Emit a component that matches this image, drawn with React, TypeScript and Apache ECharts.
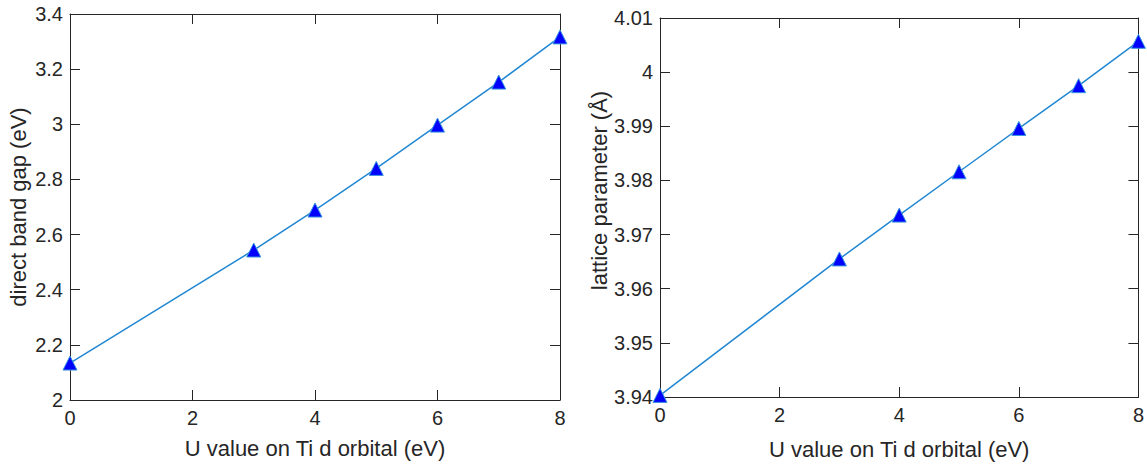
import React, { useEffect, useRef } from "react";
import * as echarts from "echarts";

const uValues = [0, 3, 4, 5, 6, 7, 8];
const bandGap = [2.134, 2.544, 2.689, 2.84, 2.997, 3.153, 3.317];
const latticeParam = [3.9403, 3.9655, 3.9736, 3.9816, 3.9896, 3.9975, 4.0057];

const xName = "U value on Ti d orbital (eV)";
const leftYName = "direct band gap (eV)";
const rightYName = "lattice parameter (Å)";

const FONT = "Liberation Sans, Arial, Helvetica, sans-serif";
const AXIS_COLOR = "#262626";
const LINE_COLOR = "#2287d2";
const MARKER_COLOR = "#0000ff";

function axisBase(show: boolean) {
  return {
    axisLine: { show: true, onZero: false, lineStyle: { color: AXIS_COLOR, width: 1 } },
    axisTick: { show: true, inside: true, length: 10, lineStyle: { color: AXIS_COLOR, width: 1 } },
    axisLabel: {
      show,
      color: AXIS_COLOR,
      fontSize: 20,
      fontFamily: FONT,
    },
    splitLine: { show: false },
  };
}

export default function App() {
  const ref = useRef<HTMLDivElement>(null);
  useEffect(() => {
    if (!ref.current) return;
    const chart = echarts.init(ref.current, undefined, { renderer: "svg" });
    const nameStyle = { color: AXIS_COLOR, fontSize: 22, fontFamily: FONT };
    const xAxisDef = (grid: number, pos: "bottom" | "top", gap: number) => ({
      type: "value",
      gridIndex: grid,
      position: pos,
      min: 0,
      max: 8,
      interval: 2,
      ...axisBase(pos === "bottom"),
      axisLabel: { ...axisBase(pos === "bottom").axisLabel, margin: 8 },
      name: pos === "bottom" ? xName : "",
      nameLocation: "middle",
      nameGap: gap,
      nameTextStyle: nameStyle,
    });
    chart.setOption({
      animation: false,
      backgroundColor: "#ffffff",
      grid: [
        { left: 70, top: 14, width: 490, height: 386 },
        { left: 660, top: 18, width: 480, height: 379 },
      ],
      xAxis: [
        xAxisDef(0, "bottom", 37),
        xAxisDef(0, "top", 10),
        xAxisDef(1, "bottom", 41),
        xAxisDef(1, "top", 10),
      ],
      yAxis: [
        {
          type: "value",
          gridIndex: 0,
          position: "left",
          min: 2,
          max: 3.4,
          interval: 0.2,
          ...axisBase(true),
          axisLabel: { ...axisBase(true).axisLabel, margin: 7 },
          name: leftYName,
          nameLocation: "middle",
          nameGap: 41,
          nameTextStyle: nameStyle,
        },
        {
          type: "value",
          gridIndex: 0,
          position: "right",
          min: 2,
          max: 3.4,
          interval: 0.2,
          ...axisBase(false),
        },
        {
          type: "value",
          gridIndex: 1,
          position: "left",
          min: 3.94,
          max: 4.01,
          interval: 0.01,
          ...axisBase(true),
          axisLabel: { ...axisBase(true).axisLabel, margin: 7 },
          name: rightYName,
          nameLocation: "middle",
          nameGap: 46,
          nameTextStyle: { ...nameStyle, padding: [0, 0, 0, 34] },
        },
        {
          type: "value",
          gridIndex: 1,
          position: "right",
          min: 3.94,
          max: 4.01,
          interval: 0.01,
          ...axisBase(false),
        },
      ],
      series: [
        {
          type: "line",
          xAxisIndex: 0,
          yAxisIndex: 0,
          data: uValues.map((u, i) => [u, bandGap[i]]),
          symbol: "triangle",
          symbolSize: 14,
          clip: false,
          lineStyle: { color: LINE_COLOR, width: 1.5 },
          itemStyle: { color: MARKER_COLOR, borderColor: "#3a95dc", borderWidth: 1 },
          z: 3,
        },
        {
          type: "line",
          xAxisIndex: 2,
          yAxisIndex: 2,
          data: uValues.map((u, i) => [u, latticeParam[i]]),
          symbol: "triangle",
          symbolSize: 14,
          clip: false,
          lineStyle: { color: LINE_COLOR, width: 1.5 },
          itemStyle: { color: MARKER_COLOR, borderColor: "#3a95dc", borderWidth: 1 },
          z: 3,
        },
      ],
    });
    return () => chart.dispose();
  }, []);
  return (
    <div
      ref={ref}
      style={{ position: "fixed", left: 0, top: 0, width: 1147, height: 465, background: "#fff" }}
    />
  );
}
